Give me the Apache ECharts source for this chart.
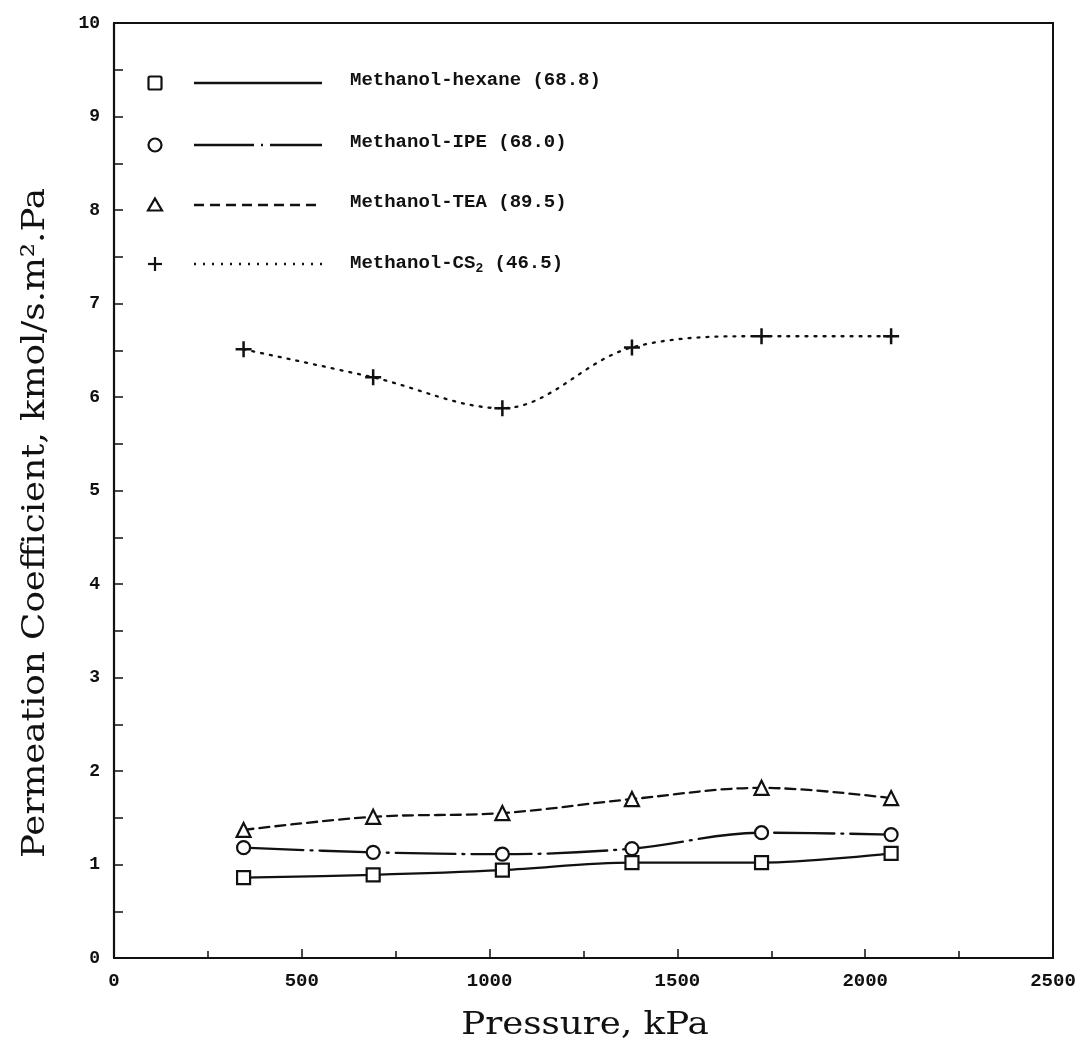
<!DOCTYPE html>
<html>
<head>
<meta charset="utf-8">
<script src="https://cdn.jsdelivr.net/npm/echarts@6/dist/echarts.min.js"></script>
<style>
  html, body { margin: 0; padding: 0; background: #fff; }
  #chart { width: 1083px; height: 1059px; }
</style>
</head>
<body>
<div id="chart"></div>
<script>
// Pressure (kPa) at which each permeation run was taken
const pressures = [345, 690, 1034, 1379, 1724, 2069];

// Permeation coefficients, kmol/s.m².Pa
const hexane = [0.86, 0.89, 0.94, 1.02, 1.02, 1.12];
const ipe    = [1.18, 1.13, 1.11, 1.17, 1.34, 1.32];
const tea    = [1.37, 1.51, 1.55, 1.70, 1.82, 1.71];
const cs2    = [6.51, 6.21, 5.88, 6.53, 6.65, 6.65];

const seriesNames = [
  'Methanol-hexane (68.8)',
  'Methanol-IPE (68.0)',
  'Methanol-TEA (89.5)',
  'Methanol-CS₂ (46.5)'
];

const xTitle = 'Pressure, kPa';
const yTitle = 'Permeation Coefficient, kmol/s.m².Pa';

const MONO = '"Liberation Mono", "DejaVu Sans Mono", monospace';
const SERIF = '"DejaVu Serif", "Liberation Serif", serif';
const INK = '#111';
const LW = 2.3;

const plusPath = 'path://M-1.1,-7 h2.2 v5.9 h5.9 v2.2 h-5.9 v5.9 h-2.2 v-5.9 h-5.9 v-2.2 h5.9 z';

function pairs(ys) { return pressures.map((p, i) => [p, ys[i]]); }

function lineSeries(name, ys, symbol, dash, symbolSize, filled) {
  return {
    name: name,
    type: 'line',
    data: pairs(ys),
    smooth: 0.35,
    symbol: symbol,
    symbolSize: symbolSize,
    showAllSymbol: true,
    lineStyle: { color: INK, width: LW, type: dash, cap: 'round' },
    itemStyle: filled
      ? { color: INK, borderWidth: 0 }
      : { color: '#fff', borderColor: INK, borderWidth: 2.2 },
    z: 3
  };
}

const dashIPE = [60, 7, 2, 7];
const dashTEA = [10, 6];
const dashCS2 = [2, 7];

// Legend rows: marker, line sample and label
const legendRows = [
  { y: 83,  dash: null },
  { y: 145, dash: dashIPE },
  { y: 205, dash: dashTEA },
  { y: 264, dash: dashCS2 }
];
const markerX = 155, lineX0 = 194, lineX1 = 322, textX = 350;

const extraGraphics = [];
legendRows.forEach((row, i) => {
  const y = row.y;
  let marker;
  if (i === 0) {
    marker = { type: 'rect', shape: { x: markerX - 6.5, y: y - 6.5, width: 13, height: 13, r: 1.5 },
      style: { fill: '#fff', stroke: INK, lineWidth: 2.2 } };
  } else if (i === 1) {
    marker = { type: 'circle', shape: { cx: markerX, cy: y, r: 6.5 },
      style: { fill: '#fff', stroke: INK, lineWidth: 2.2 } };
  } else if (i === 2) {
    marker = { type: 'polygon', shape: { points: [[markerX, y - 6.5], [markerX + 7, y + 5.5], [markerX - 7, y + 5.5]] },
      style: { fill: '#fff', stroke: INK, lineWidth: 2.2 } };
  } else {
    marker = { type: 'group', children: [
      { type: 'line', shape: { x1: markerX - 7, y1: y, x2: markerX + 7, y2: y }, style: { stroke: INK, lineWidth: 2.2 } },
      { type: 'line', shape: { x1: markerX, y1: y - 7, x2: markerX, y2: y + 7 }, style: { stroke: INK, lineWidth: 2.2 } }
    ] };
  }
  extraGraphics.push(marker);
  extraGraphics.push({
    type: 'line',
    shape: { x1: lineX0, y1: y, x2: lineX1, y2: y },
    style: { stroke: INK, lineWidth: LW, lineDash: row.dash || null }
  });
  const text = i === 3
    ? '{t|Methanol-CS}{s|2}{t| (46.5)}'
    : '{t|' + seriesNames[i] + '}';
  extraGraphics.push({
    type: 'text',
    left: textX,
    top: y - 12,
    style: {
      text: text,
      rich: {
        t: { fontFamily: MONO, fontWeight: 'bold', fontSize: 19, fill: INK, lineHeight: 24 },
        s: { fontFamily: MONO, fontWeight: 'bold', fontSize: 13, fill: INK, lineHeight: 24, padding: [10, 0, 0, 0] }
      }
    }
  });
});

// Axis titles, set in a wide serif
extraGraphics.push({
  type: 'text',
  x: 36,
  y: 523,
  rotation: Math.PI / 2,
  scaleX: 1.15,
  style: {
    text: yTitle,
    fontFamily: SERIF,
    fontSize: 31,
    fill: INK,
    align: 'center',
    verticalAlign: 'middle'
  }
});
extraGraphics.push({
  type: 'text',
  x: 585,
  y: 1026,
  scaleX: 1.15,
  style: {
    text: xTitle,
    fontFamily: SERIF,
    fontSize: 31,
    fill: INK,
    align: 'center',
    verticalAlign: 'middle'
  }
});

const chart = echarts.init(document.getElementById('chart'), null, { renderer: 'canvas' });

chart.setOption({
  backgroundColor: '#fff',
  animation: false,
  grid: {
    left: 114, right: 30, top: 23, bottom: 101,
    show: true, borderColor: INK, borderWidth: 2, backgroundColor: 'transparent'
  },
  xAxis: {
    type: 'value',
    min: 0, max: 2500, interval: 500,
    axisLine: { show: true, lineStyle: { color: INK, width: 2.2 } },
    axisTick: { show: true, inside: true, length: 9, lineStyle: { color: INK, width: 1.5 } },
    minorTick: { show: true, splitNumber: 2, length: 7, lineStyle: { color: INK, width: 1.5 } },
    axisLabel: {
      fontFamily: MONO, fontWeight: 'bold', fontSize: 19, color: INK, margin: 14,
      formatter: v => String(v)
    },
    splitLine: { show: false }
  },
  yAxis: {
    type: 'value',
    min: 0, max: 10, interval: 1,
    axisLine: { show: true, lineStyle: { color: INK, width: 2.2 } },
    axisTick: { show: true, inside: true, length: 9, lineStyle: { color: INK, width: 1.5 } },
    minorTick: { show: true, splitNumber: 2, length: 9, lineStyle: { color: INK, width: 1.5 } },
    axisLabel: {
      fontFamily: MONO, fontWeight: 'bold', fontSize: 18, color: INK, margin: 14,
      formatter: v => String(v)
    },
    splitLine: { show: false }
  },
  series: [
    lineSeries(seriesNames[0], hexane, 'rect', 'solid', 13, false),
    lineSeries(seriesNames[1], ipe, 'circle', dashIPE, 13, false),
    lineSeries(seriesNames[2], tea, 'triangle', dashTEA, 14, false),
    lineSeries(seriesNames[3], cs2, plusPath, dashCS2, 16, true)
  ],
  graphic: extraGraphics
});
</script>
</body>
</html>
